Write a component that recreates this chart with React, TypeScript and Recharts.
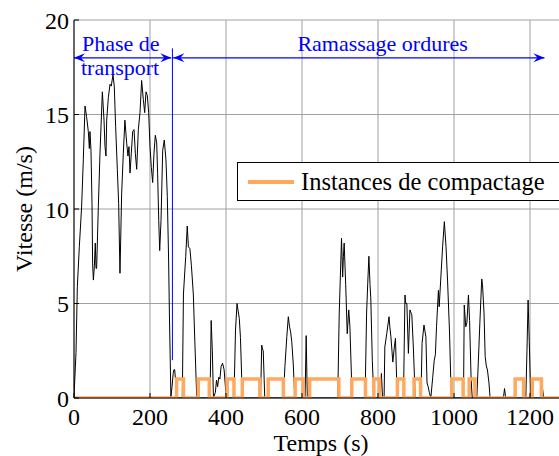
import React from "react";
import {
    LineChart,
    Line,
    XAxis,
    YAxis,
    CartesianGrid,
    ReferenceLine,
    Legend,
    Label,
} from "recharts";

// vitesse (m/s) vs temps (s), phase de transport
const transportSpeed: [number, number][] = [
    [0, 0.07], [5.3, 2.4], [8.8, 5.9], [14, 8.0], [20, 10.1], [24.5, 12.6], [29, 15.45],
    [33, 14.9], [37.7, 14.1], [40.4, 13.2], [42, 14.1], [44.7, 13.1], [47.4, 10.3], [49, 7.1],
    [51, 6.24], [53.5, 6.95], [56, 8.2], [58, 6.86], [59.6, 6.86], [64, 10.1], [68.4, 12.95],
    [74.6, 16.2], [79, 14.7], [81.6, 13.3], [84.2, 12.8], [86, 14.7], [90.4, 15.9], [94.7, 16.6],
    [98, 16.5], [102.6, 17.1], [106, 16.5], [109.6, 14.35], [114, 12.1], [117.5, 10.3], [121, 6.6],
    [125.4, 10.8], [129.8, 12.95], [134, 14.7], [138.6, 13.5], [142, 12.8], [144.7, 13.3],
    [147.4, 11.9], [150.8, 12.95], [154.4, 14.1], [158, 14.2], [161.4, 12.95], [165, 12.1],
    [169.3, 14.2], [173.7, 15.1], [178, 16.8], [182.4, 15.8], [186, 15.1], [189.5, 16.2],
    [193, 16.0], [196.5, 15.1], [200, 13.3], [203.5, 12.2], [207, 11.4], [210.5, 12.95],
    [214, 13.9], [217.6, 13.5], [220, 11.9], [223, 9.4], [225.5, 7.8], [229, 9.4], [233.4, 13.1],
    [237.6, 13.65], [242, 12.6], [245.6, 10.65],
];

// phase ramassage ordures
const collectionSpeed: [number, number][] = [
    [249, 7.3], [251, 4.5], [253, 2.3], [255, 0.05], [258, 0.6], [261, 1.3], [263, 1.5], [265, 1.5],
    [267, 1.0], [270, 0],
    [285, 0], [288, 5.5], [294, 7.5], [298, 9.1], [301, 8.0], [305, 7.9], [309, 7.0], [314, 5.5],
    [318, 3.0], [323, 0],
    [358, 0], [361, 4.1], [364, 2.5], [367, 0],
    [372, 0.3], [375, 0.95], [378, 0.6], [381, 1.1], [384, 1.0], [387, 1.66], [391, 1.84],
    [395, 1.5], [400, 0.2], [403, 0],
    [421, 0], [425, 3.6], [429, 5.0], [432, 4.6], [435, 4.2], [438, 3.2], [443, 0],
    [491, 0], [494, 2.8], [496, 2.6], [498, 2.5], [502, 0],
    [551, 0], [555, 1.66], [560, 3.24], [564, 4.3], [567, 3.8], [570, 3.5], [573, 3.0], [577, 1.8],
    [581, 0],
    [608, 0], [611, 3.3], [614, 0],
    [694, 0], [698, 4.5], [704, 8.45], [707, 6.4], [709, 7.5], [711, 8.2], [715, 6.0], [719, 3.4],
    [723, 4.66], [726, 3.8], [731, 0.6], [733, 0],
    [766, 0], [770, 4.5], [773, 6.07], [776, 7.5], [779, 6.0], [781, 5.3], [785, 2.0], [789, 0],
    [806, 0], [809, 1.3], [812, 0], [816, 0], [818, 2.7], [823, 3.4], [829, 4.3], [831, 3.8],
    [834, 3.24], [839, 1.9], [843, 2.7], [846, 3.16], [849, 1.0], [853, 0],
    [867, 0], [871, 5.45], [873, 5.0], [876, 5.0], [880, 2.36], [884, 4.66], [887, 4.5], [889, 4.4],
    [893, 2.7], [898, 0],
    [913, 0], [916, 2.9], [921, 3.86], [926, 3.24], [929, 0.8], [932, 0.6], [935, 0.3], [939, 0],
    [944, 1.1], [948, 2.0], [951, 2.3], [954, 3.77], [959, 5.7], [961, 4.83], [965, 6.24], [970, 8.0],
    [974.6, 9.33], [979, 8.0], [983, 6.24], [988, 3.6], [992, 0.6], [995, 0],
    [1025, 0], [1027, 4.92], [1031, 3.77], [1034, 4.0], [1038, 5.45], [1041, 4.1], [1045, 1.0],
    [1048, 0],
    [1060, 0], [1064, 1.9], [1068, 3.95], [1073, 6.3], [1075, 6.0], [1079, 4.5], [1082, 2.2],
    [1085, 1.7], [1088, 1.48], [1092, 0.8], [1095, 0],
    [1130, 0], [1133, 0.5], [1136, 0],
    [1189, 0], [1192, 2.5], [1195, 5.18], [1198, 3.0], [1202, 0],
    [1230, 0], [1233, 0.5], [1236, 0], [1300, 0],
];

// instances de compactage: [debut, fin] en s
const compactionIntervals: [number, number][] = [
    [270, 288], [327, 356], [403, 421], [443, 489], [511, 551], [582, 603], [620, 697],
    [731, 767], [789, 804], [851, 868], [895, 912], [994, 1024], [1040, 1055], [1161, 1183],
    [1206, 1230],
];

const xTicks = [0, 200, 400, 600, 800, 1000, 1200];
const yTicks = [0, 5, 10, 15, 20];
const timeEnd = 1300;
const phaseSplit = 259;
const arrowLevel = 18;
const arrowEnd = 1238;

const speedData = [...transportSpeed, ...collectionSpeed].map(([t, v]) => ({ t, v }));

const compactData: { t: number; c: number }[] = [{ t: 0, c: 0 }];
compactionIntervals.forEach(([s, e]) => {
    compactData.push({ t: s, c: 1 }, { t: e, c: 0 });
});
compactData.push({ t: timeEnd, c: 0 });

const FONT = "'Liberation Serif', 'Times New Roman', serif";
const BLUE = "#0000ff";
const ORANGE = "#ffa95e";

function head(x: number, y: number, dir: number) {
    const L = 11, W = 4.5, N = 7;
    return `M${x},${y} L${x - dir * L},${y - W} L${x - dir * N},${y} L${x - dir * L},${y + W} Z`;
}

function transportArrow(p: any) {
    const { x1, y1, x2, y2 } = p;
    return (
        <g>
            <line x1={x1} y1={y1} x2={x2} y2={y2} stroke={BLUE} strokeWidth={1.2} />
            <path d={head(x1, y1, -1)} fill={BLUE} />
            <path d={head(x2, y2, 1)} fill={BLUE} />
            <text x={x1 + 8} y={y1 - 7} fill={BLUE} fontSize={22} fontFamily={FONT}>Phase de</text>
            <text x={x1 + 7} y={y1 + 17} fill={BLUE} fontSize={22} fontFamily={FONT}>transport</text>
        </g>
    );
}

function collectionArrow(p: any) {
    const { x1, y1, x2, y2 } = p;
    return (
        <g>
            <line x1={x1} y1={y1} x2={x2} y2={y2} stroke={BLUE} strokeWidth={1.2} />
            <path d={head(x1 + 1, y1, -1)} fill={BLUE} />
            <path d={head(x2, y2, 1)} fill={BLUE} />
            <text x={x1 + 125} y={y1 - 7} fill={BLUE} fontSize={22} fontFamily={FONT}>Ramassage ordures</text>
        </g>
    );
}

const tickStyle = { fill: "#000", fontSize: 24, fontFamily: FONT };

export default function App() {
    return (
        <div
            style={{
                position: "absolute",
                left: 0,
                top: 0,
                width: 559,
                height: 456,
                overflow: "hidden",
                background: "#fff",
                fontFamily: FONT,
            }}
        >
            <LineChart width={600} height={456} margin={{ top: 20, right: 32, bottom: 0, left: 0 }}>
                <CartesianGrid stroke="#a0a0a0" strokeWidth={1} />
                <XAxis
                    dataKey="t"
                    type="number"
                    domain={[0, timeEnd]}
                    ticks={xTicks}
                    allowDataOverflow
                    height={58}
                    tick={tickStyle}
                    tickSize={-5}
                    tickMargin={15}
                    tickLine={{ stroke: "#000" }}
                    axisLine={{ stroke: "#000" }}
                >
                    <Label value="Temps (s)" position="insideBottom" offset={5} fill="#000" fontSize={24} fontFamily={FONT} />
                </XAxis>
                <XAxis
                    xAxisId="top"
                    orientation="top"
                    type="number"
                    domain={[0, timeEnd]}
                    ticks={xTicks}
                    allowDataOverflow
                    height={0}
                    tickSize={-5}
                    tickFormatter={() => ""}
                    tickLine={{ stroke: "#000" }}
                    axisLine={{ stroke: "#000" }}
                />
                <YAxis
                    type="number"
                    domain={[0, 20]}
                    ticks={yTicks}
                    allowDataOverflow
                    width={74}
                    tick={tickStyle}
                    tickSize={-5}
                    tickMargin={10}
                    tickLine={{ stroke: "#000" }}
                    axisLine={{ stroke: "#000" }}
                >
                    <Label
                        value="Vitesse (m/s)"
                        angle={-90}
                        position="insideLeft"
                        offset={23}
                        fill="#000"
                        fontSize={24}
                        fontFamily={FONT}
                        style={{ textAnchor: "middle" }}
                    />
                </YAxis>
                <ReferenceLine
                    segment={[{ x: phaseSplit, y: 2 }, { x: phaseSplit, y: 18.5 }]}
                    stroke={BLUE}
                    strokeWidth={1}
                />
                <Line
                    data={speedData}
                    dataKey="v"
                    type="linear"
                    stroke="#000"
                    strokeWidth={1}
                    dot={false}
                    legendType="none"
                    isAnimationActive={false}
                />
                <Line
                    data={compactData}
                    dataKey="c"
                    type="stepAfter"
                    stroke={ORANGE}
                    strokeWidth={3.5}
                    dot={false}
                    name="Instances de compactage"
                    isAnimationActive={false}
                />
                <ReferenceLine
                    segment={[{ x: 0, y: arrowLevel }, { x: phaseSplit - 3, y: arrowLevel }]}
                    shape={transportArrow}
                />
                <ReferenceLine
                    segment={[{ x: phaseSplit, y: arrowLevel }, { x: arrowEnd, y: arrowLevel }]}
                    shape={collectionArrow}
                />
                <Legend
                    layout="vertical"
                    align="center"
                    verticalAlign="middle"
                    wrapperStyle={{ left: 237, top: 162, width: "auto" }}
                    content={() => (
                        <div
                            style={{
                                border: "1px solid #000",
                                background: "#fff",
                                width: 340,
                                height: 39,
                                boxSizing: "border-box",
                                display: "flex",
                                alignItems: "center",
                                fontFamily: FONT,
                                fontSize: 24.5,
                                color: "#000",
                                whiteSpace: "nowrap",
                            }}
                        >
                            <span
                                style={{
                                    display: "inline-block",
                                    width: 46,
                                    height: 4,
                                    background: ORANGE,
                                    marginLeft: 10,
                                    marginRight: 7,
                                }}
                            />
                            Instances de compactage
                        </div>
                    )}
                />
            </LineChart>
        </div>
    );
}
